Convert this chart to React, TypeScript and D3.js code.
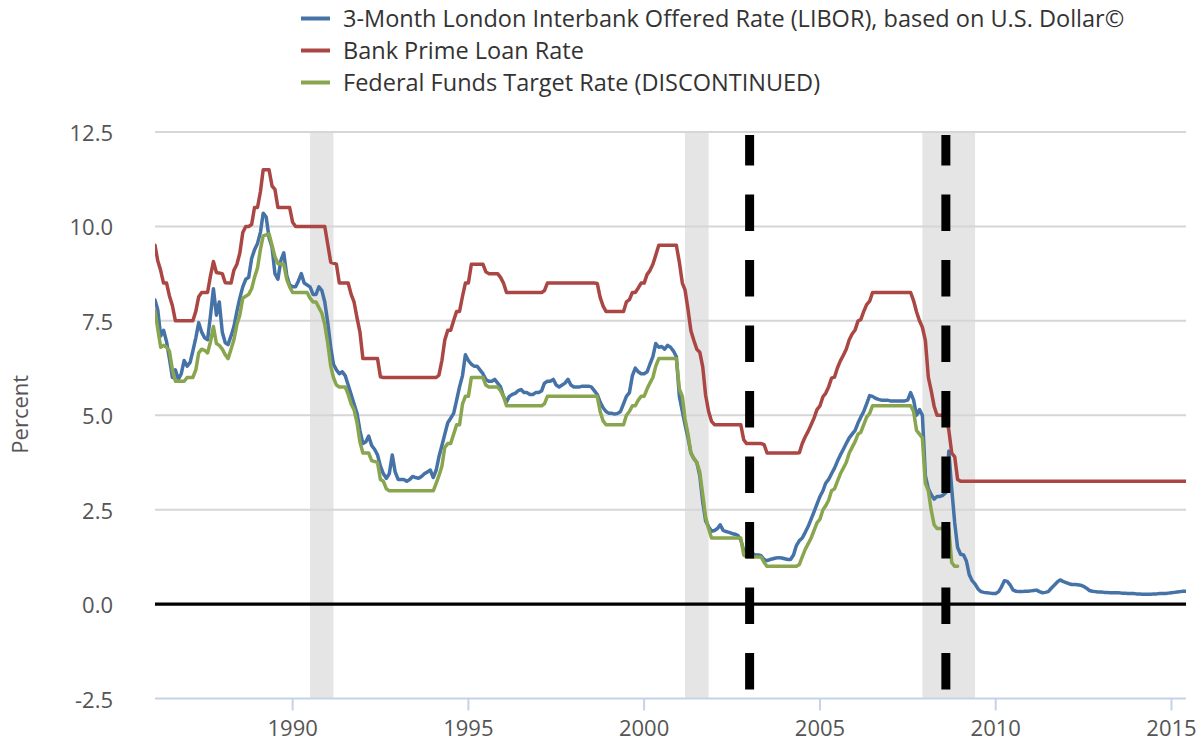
import * as d3 from 'd3';

const W = 1201;
const H = 742;
const MARGIN = { top: 132, right: 15, bottom: 43.5, left: 155 };
const FONT = '"Open Sans", sans-serif';

// axis extents and ticks
const X_DOMAIN = ['1986-02', '2015-06'];
const X_TICKS = ['1990', '1995', '2000', '2005', '2010', '2015'];
const Y_DOMAIN = [-2.5, 12.5];
const Y_TICKS = [-2.5, 0, 2.5, 5, 7.5, 10, 12.5];

// NBER recessions (shaded)
const RECESSIONS: [string, string][] = [
  ['1990-07', '1991-03'],
  ['2001-03', '2001-11'],
  ['2007-12', '2009-06'],
];

// thick black dashed markers
const MARKERS = ['2003-01', '2008-08'];
const MARKER_TOP = 12.42;

// 3-month LIBOR, monthly from Jan 1986
const LIBOR_START = '1986-01';
const LIBOR = [
  8.1, 8.05, 7.8, 7.1, 7.25, 6.95, 6.5, 6.0, 6.2, 5.95, 6.1, 6.45,
  6.3, 6.4, 6.7, 7.05, 7.45, 7.2, 7.05, 7.0, 7.65, 8.35, 7.65, 8.0,
  7.2, 6.92, 6.87, 7.1, 7.35, 7.75, 8.1, 8.4, 8.6, 8.65, 9.15, 9.38,
  9.55, 9.85, 10.35, 10.25, 9.7, 9.45, 8.75, 8.6, 9.1, 9.3, 8.7, 8.45,
  8.4, 8.4, 8.55, 8.75, 8.5, 8.45, 8.4, 8.2, 8.2, 8.4, 8.3, 8.0,
  7.45, 6.8, 6.35, 6.2, 6.1, 6.15, 6.05, 5.8, 5.55, 5.3, 5.05, 4.6,
  4.25, 4.3, 4.45, 4.2, 4.1, 3.95, 3.65, 3.45, 3.33, 3.45, 3.95, 3.5,
  3.3, 3.3, 3.3, 3.25, 3.3, 3.38, 3.35, 3.33, 3.38, 3.45, 3.5, 3.55,
  3.35, 3.55, 3.9, 4.2, 4.5, 4.8, 4.92, 5.05, 5.4, 5.75, 6.05, 6.6,
  6.45, 6.35, 6.3, 6.3, 6.2, 6.1, 5.95, 5.9, 5.9, 5.95, 5.85, 5.75,
  5.5, 5.35, 5.5, 5.55, 5.58, 5.65, 5.68, 5.6, 5.6, 5.55, 5.55, 5.6,
  5.6, 5.65, 5.85, 5.9, 5.9, 5.95, 5.8, 5.75, 5.8, 5.85, 5.95, 5.8,
  5.75, 5.75, 5.75, 5.77, 5.77, 5.77, 5.75, 5.65, 5.55, 5.35, 5.2, 5.1,
  5.05, 5.05, 5.03, 5.05, 5.1, 5.3, 5.5, 5.6, 6.05, 6.25, 6.15, 6.1,
  6.1, 6.15, 6.35, 6.55, 6.9, 6.8, 6.82, 6.75, 6.85, 6.8, 6.7, 6.55,
  5.5, 5.1, 4.75, 4.4, 4.0, 3.85, 3.75, 3.4, 2.7, 2.2, 2.05, 1.93,
  1.95, 2.0, 2.1, 1.95, 1.92, 1.9, 1.87, 1.85, 1.82, 1.7, 1.42, 1.4,
  1.36, 1.34, 1.3, 1.3, 1.28, 1.18, 1.15, 1.18, 1.2, 1.22, 1.23, 1.22,
  1.2, 1.18, 1.18, 1.3, 1.55, 1.68, 1.75, 1.9, 2.06, 2.25, 2.45, 2.65,
  2.85, 3.0, 3.2, 3.3, 3.45, 3.6, 3.78, 3.95, 4.1, 4.25, 4.4, 4.5,
  4.6, 4.8, 4.95, 5.1, 5.3, 5.52, 5.5, 5.45, 5.42, 5.4, 5.4, 5.4,
  5.38, 5.38, 5.38, 5.38, 5.38, 5.38, 5.4, 5.6, 5.4, 5.0, 5.15, 5.0,
  3.4, 3.05, 2.9, 2.78, 2.85, 2.85, 2.88, 2.95, 4.05, 3.05, 2.15, 1.5,
  1.32, 1.3, 1.15, 0.78, 0.62, 0.53, 0.4, 0.33, 0.31, 0.3, 0.29, 0.28,
  0.28, 0.33, 0.45, 0.62, 0.6, 0.5, 0.37, 0.34, 0.33, 0.33, 0.34, 0.34,
  0.35, 0.36, 0.37, 0.33, 0.3, 0.31, 0.33, 0.42, 0.5, 0.58, 0.64, 0.6,
  0.57, 0.54, 0.52, 0.52, 0.51, 0.5, 0.47, 0.42, 0.36, 0.34, 0.33, 0.32,
  0.32, 0.31, 0.31, 0.3, 0.3, 0.3, 0.3, 0.29, 0.29, 0.28, 0.28, 0.28,
  0.27, 0.27, 0.26, 0.26, 0.26, 0.26, 0.27, 0.27, 0.28, 0.28, 0.28, 0.29,
  0.3, 0.31, 0.32, 0.33, 0.34, 0.34,
];

// Bank prime loan rate, monthly averages (only months where the line bends)
const PRIME: [string, number][] = [
  ['1986-01', 9.5], ['1986-02', 9.5], ['1986-03', 9.1], ['1986-04', 8.83], ['1986-05', 8.5],
  ['1986-06', 8.5], ['1986-07', 8.16], ['1986-08', 7.9], ['1986-09', 7.5], ['1987-03', 7.5],
  ['1987-04', 7.75], ['1987-05', 8.14], ['1987-06', 8.25], ['1987-08', 8.25], ['1987-09', 8.7],
  ['1987-10', 9.07], ['1987-11', 8.78], ['1988-01', 8.75], ['1988-02', 8.51], ['1988-04', 8.5],
  ['1988-05', 8.84], ['1988-06', 9.0], ['1988-07', 9.29], ['1988-08', 9.84], ['1988-09', 10.0],
  ['1988-10', 10.0], ['1988-11', 10.05], ['1988-12', 10.5], ['1989-01', 10.5], ['1989-02', 10.93],
  ['1989-03', 11.5], ['1989-05', 11.5], ['1989-06', 11.07], ['1989-07', 10.98], ['1989-08', 10.5],
  ['1989-12', 10.5], ['1990-01', 10.11], ['1990-02', 10.0], ['1990-12', 10.0], ['1991-01', 9.52],
  ['1991-02', 9.05], ['1991-04', 9.0], ['1991-05', 8.5], ['1991-08', 8.5], ['1991-09', 8.2],
  ['1991-10', 8.0], ['1991-11', 7.58], ['1991-12', 7.21], ['1992-01', 6.5], ['1992-06', 6.5],
  ['1992-07', 6.02], ['1992-08', 6.0], ['1994-02', 6.0], ['1994-03', 6.06], ['1994-04', 6.45],
  ['1994-05', 6.99], ['1994-06', 7.25], ['1994-07', 7.25], ['1994-08', 7.51], ['1994-09', 7.75],
  ['1994-10', 7.75], ['1994-11', 8.15], ['1994-12', 8.5], ['1995-01', 8.5], ['1995-02', 9.0],
  ['1995-06', 9.0], ['1995-07', 8.8], ['1995-08', 8.75], ['1995-11', 8.75], ['1995-12', 8.65],
  ['1996-01', 8.5], ['1996-02', 8.25], ['1997-02', 8.25], ['1997-03', 8.3], ['1997-04', 8.5],
  ['1998-08', 8.5], ['1998-09', 8.49], ['1998-10', 8.12], ['1998-11', 7.89], ['1998-12', 7.75],
  ['1999-06', 7.75], ['1999-07', 8.0], ['1999-08', 8.06], ['1999-09', 8.25], ['1999-10', 8.25],
  ['1999-11', 8.37], ['1999-12', 8.5], ['2000-01', 8.5], ['2000-02', 8.73], ['2000-03', 8.83],
  ['2000-04', 9.0], ['2000-05', 9.24], ['2000-06', 9.5], ['2000-12', 9.5], ['2001-01', 9.05],
  ['2001-02', 8.5], ['2001-03', 8.32], ['2001-04', 7.8], ['2001-05', 7.24], ['2001-06', 6.98],
  ['2001-07', 6.75], ['2001-08', 6.67], ['2001-09', 6.28], ['2001-10', 5.53], ['2001-11', 5.1],
  ['2001-12', 4.84], ['2002-01', 4.75], ['2002-10', 4.75], ['2002-11', 4.35], ['2002-12', 4.25],
  ['2003-05', 4.25], ['2003-06', 4.22], ['2003-07', 4.0], ['2004-05', 4.0], ['2004-06', 4.01],
  ['2004-07', 4.25], ['2004-08', 4.43], ['2004-09', 4.58], ['2004-10', 4.75], ['2004-11', 4.93],
  ['2004-12', 5.15], ['2005-01', 5.25], ['2005-02', 5.49], ['2005-03', 5.58], ['2005-04', 5.75],
  ['2005-05', 5.98], ['2005-06', 6.01], ['2005-07', 6.25], ['2005-08', 6.44], ['2005-09', 6.59],
  ['2005-10', 6.75], ['2005-11', 7.0], ['2005-12', 7.15], ['2006-01', 7.26], ['2006-02', 7.5],
  ['2006-03', 7.53], ['2006-04', 7.75], ['2006-05', 7.93], ['2006-06', 8.02], ['2006-07', 8.25],
  ['2007-08', 8.25], ['2007-09', 8.03], ['2007-10', 7.74], ['2007-11', 7.5], ['2007-12', 7.33],
  ['2008-01', 6.98], ['2008-02', 6.0], ['2008-03', 5.66], ['2008-04', 5.24], ['2008-05', 5.0],
  ['2008-08', 5.0], ['2008-09', 4.6], ['2008-10', 4.0], ['2008-11', 3.9], ['2008-12', 3.3],
  ['2009-01', 3.25], ['2015-06', 3.25],
];

// Federal funds target rate, monthly averages, ends Dec 2008
const FFTR: [string, number][] = [
  ['1986-01', 7.8], ['1986-02', 7.78], ['1986-03', 7.3], ['1986-04', 6.8], ['1986-05', 6.85],
  ['1986-06', 6.8], ['1986-07', 6.7], ['1986-08', 6.2], ['1986-09', 5.9], ['1986-12', 5.9],
  ['1987-01', 6.0], ['1987-03', 6.0], ['1987-04', 6.2], ['1987-05', 6.65], ['1987-06', 6.75],
  ['1987-07', 6.72], ['1987-08', 6.65], ['1987-09', 6.95], ['1987-10', 7.35], ['1987-11', 6.9],
  ['1987-12', 6.85], ['1988-01', 6.75], ['1988-02', 6.6], ['1988-03', 6.5], ['1988-04', 6.75],
  ['1988-05', 7.0], ['1988-06', 7.4], ['1988-07', 7.65], ['1988-08', 8.1], ['1988-09', 8.15],
  ['1988-10', 8.2], ['1988-11', 8.35], ['1988-12', 8.65], ['1989-01', 8.9], ['1989-02', 9.4],
  ['1989-03', 9.75], ['1989-05', 9.8], ['1989-06', 9.5], ['1989-07', 9.2], ['1989-08', 9.02],
  ['1989-10', 9.0], ['1989-11', 8.6], ['1989-12', 8.4], ['1990-01', 8.25], ['1990-06', 8.25],
  ['1990-07', 8.1], ['1990-08', 8.0], ['1990-09', 8.0], ['1990-10', 7.85], ['1990-11', 7.7],
  ['1990-12', 7.4], ['1991-01', 6.9], ['1991-02', 6.3], ['1991-03', 6.0], ['1991-04', 5.8],
  ['1991-05', 5.75], ['1991-07', 5.75], ['1991-08', 5.55], ['1991-09', 5.3], ['1991-10', 5.15],
  ['1991-11', 4.8], ['1991-12', 4.3], ['1992-01', 4.0], ['1992-03', 4.0], ['1992-04', 3.8],
  ['1992-06', 3.75], ['1992-07', 3.3], ['1992-08', 3.25], ['1992-09', 3.05], ['1992-10', 3.0],
  ['1994-01', 3.0], ['1994-02', 3.2], ['1994-03', 3.4], ['1994-04', 3.65], ['1994-05', 4.15],
  ['1994-06', 4.25], ['1994-07', 4.25], ['1994-08', 4.5], ['1994-09', 4.75], ['1994-10', 4.75],
  ['1994-11', 5.3], ['1994-12', 5.5], ['1995-01', 5.5], ['1995-02', 6.0], ['1995-06', 6.0],
  ['1995-07', 5.8], ['1995-08', 5.75], ['1995-11', 5.75], ['1995-12', 5.65], ['1996-01', 5.5],
  ['1996-02', 5.25], ['1997-02', 5.25], ['1997-03', 5.3], ['1997-04', 5.5], ['1998-09', 5.5],
  ['1998-10', 5.1], ['1998-11', 4.85], ['1998-12', 4.75], ['1999-06', 4.75], ['1999-07', 5.0],
  ['1999-08', 5.1], ['1999-09', 5.25], ['1999-10', 5.25], ['1999-11', 5.4], ['1999-12', 5.5],
  ['2000-01', 5.5], ['2000-02', 5.7], ['2000-03', 5.85], ['2000-04', 6.0], ['2000-05', 6.3],
  ['2000-06', 6.5], ['2000-12', 6.5], ['2001-01', 5.7], ['2001-02', 5.5], ['2001-03', 4.9],
  ['2001-04', 4.5], ['2001-05', 4.0], ['2001-06', 3.85], ['2001-07', 3.75], ['2001-08', 3.5],
  ['2001-09', 2.9], ['2001-10', 2.3], ['2001-11', 2.0], ['2001-12', 1.75], ['2002-10', 1.75],
  ['2002-11', 1.3], ['2002-12', 1.25], ['2003-05', 1.25], ['2003-06', 1.1], ['2003-07', 1.0],
  ['2004-05', 1.0], ['2004-06', 1.05], ['2004-07', 1.25], ['2004-08', 1.45], ['2004-09', 1.6],
  ['2004-10', 1.75], ['2004-11', 1.95], ['2004-12', 2.15], ['2005-01', 2.25], ['2005-02', 2.5],
  ['2005-03', 2.6], ['2005-04', 2.75], ['2005-05', 3.0], ['2005-06', 3.05], ['2005-07', 3.25],
  ['2005-08', 3.45], ['2005-09', 3.6], ['2005-10', 3.75], ['2005-11', 4.0], ['2005-12', 4.15],
  ['2006-01', 4.3], ['2006-02', 4.5], ['2006-03', 4.55], ['2006-04', 4.75], ['2006-05', 4.95],
  ['2006-06', 5.05], ['2006-07', 5.25], ['2007-08', 5.25], ['2007-09', 5.1], ['2007-10', 4.6],
  ['2007-11', 4.5], ['2007-12', 4.4], ['2008-01', 3.2], ['2008-02', 3.0], ['2008-03', 2.5],
  ['2008-04', 2.1], ['2008-05', 2.0], ['2008-09', 2.0], ['2008-10', 1.1], ['2008-11', 1.0],
  ['2008-12', 1.0],
];

const SERIES = [
  { name: '3-Month London Interbank Offered Rate (LIBOR), based on U.S. Dollar©', color: '#4572a7' },
  { name: 'Bank Prime Loan Rate', color: '#aa4643' },
  { name: 'Federal Funds Target Rate (DISCONTINUED)', color: '#89a54e' },
];

const parseMonth = d3.utcParse('%Y-%m');
const parseYear = d3.utcParse('%Y');

type Pt = { date: Date; value: number };

export default function App() {
  const x = d3.scaleUtc()
    .domain(X_DOMAIN.map(s => parseMonth(s)!))
    .range([MARGIN.left, W - MARGIN.right]);
  const y = d3.scaleLinear().domain(Y_DOMAIN).range([H - MARGIN.bottom, MARGIN.top]);

  const libStart = parseMonth(LIBOR_START)!;
  const libor: Pt[] = LIBOR.map((v, i) => ({ date: d3.utcMonth.offset(libStart, i), value: v }));
  const prime: Pt[] = PRIME.map(([d, v]) => ({ date: parseMonth(d)!, value: v }));
  const fftr: Pt[] = FFTR.map(([d, v]) => ({ date: parseMonth(d)!, value: v }));

  const line = d3.line<Pt>().x(d => x(d.date)).y(d => y(d.value));
  const [x0, x1] = x.range();
  const [yb, yt] = y.range();

  return (
    <svg width={W} height={H} style={{ position: 'absolute', left: 0, top: 0, background: '#fff' }}
      fontFamily={FONT}>
      <defs>
        <clipPath id="plot">
          <rect x={x0} y={yt} width={x1 - x0} height={yb - yt} />
        </clipPath>
      </defs>

      {/* legend */}
      {SERIES.map((s, i) => (
        <g key={s.name} transform={`translate(0,${18.5 + i * 32})`}>
          <line x1={301} x2={330} y1={0} y2={0} stroke={s.color} strokeWidth={4} />
          <text x={343} y={8.5} fontSize={23.5} fill="#333">{s.name}</text>
        </g>
      ))}

      {/* recession shading */}
      {RECESSIONS.map(([a, b]) => (
        <rect key={a} x={x(parseMonth(a)!)} width={x(parseMonth(b)!) - x(parseMonth(a)!)}
          y={yt} height={yb - yt} fill="#e5e5e5" />
      ))}

      {/* grid */}
      {Y_TICKS.filter(t => t > 0).map(t => (
        <line key={t} x1={x0} x2={x1} y1={y(t)} y2={y(t)} stroke="#d6d6d6" strokeWidth={2} />
      ))}
      {Y_TICKS.map(t => (
        <text key={t} x={113} y={y(t) + 9} textAnchor="end" fontSize={22} fill="#555">
          {t.toFixed(1)}
        </text>
      ))}
      <text transform={`translate(28,${y(5) - 1}) rotate(-90)`} textAnchor="middle" fontSize={22} fill="#555">
        Percent
      </text>

      {/* x axis */}
      <line x1={x0} x2={x1} y1={yb} y2={yb} stroke="#c5d3e6" strokeWidth={2} />
      {X_TICKS.map(t => {
        const tx = x(parseYear(t)!);
        return (
          <g key={t}>
            <line x1={tx} x2={tx} y1={yb} y2={yb + 12} stroke="#c5d3e6" strokeWidth={2} />
            <text x={tx} y={736} textAnchor="middle" fontSize={22} fill="#555">{t}</text>
          </g>
        );
      })}

      {/* zero line */}
      <line x1={x0} x2={x1} y1={y(0)} y2={y(0)} stroke="#000" strokeWidth={3.2} />

      {/* series */}
      <g clipPath="url(#plot)" fill="none" strokeWidth={3.5} strokeLinejoin="round" strokeLinecap="round">
        <path d={line(libor)!} stroke={SERIES[0].color} />
        <path d={line(prime)!} stroke={SERIES[1].color} />
        <path d={line(fftr)!} stroke={SERIES[2].color} />
      </g>

      {/* dashed markers */}
      {MARKERS.map(m => {
        const mx = x(parseMonth(m)!);
        return (
          <line key={m} x1={mx} x2={mx} y1={y(MARKER_TOP)} y2={yb} stroke="#000" strokeWidth={9}
            strokeDasharray="36.5 29" strokeDashoffset={6} />
        );
      })}
    </svg>
  );
}
